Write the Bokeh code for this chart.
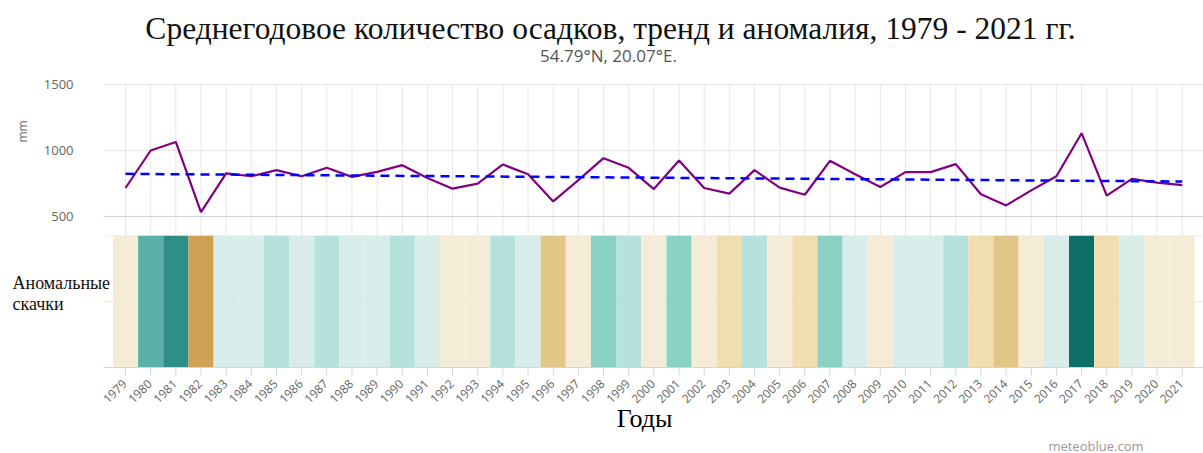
import math
from bokeh.plotting import figure
from bokeh.layouts import column
from bokeh.models import Range1d, Label, LabelSet, ColumnDataSource
from bokeh.core.properties import value
from bokeh.embed import file_html
from bokeh.resources import INLINE

years = list(range(1979, 2022))
precip = [716, 1000, 1065, 533, 826, 805, 851, 805, 869, 800, 838, 889,
          792, 711, 749, 894, 820, 614, 775, 942, 869, 708, 925, 716, 673, 851, 719, 665,
          922, 820, 724, 836, 836, 897, 668, 584, 698, 805, 1131, 658, 785, 757, 737]
trend_years = [1979, 2021]
trend_values = [823, 765]
anomaly_level = [-1, 4, 5, -4, 1, 1, 2, 1, 2, 1, 1, 2,
                 1, -1, -1, 2, 1, -3, -1, 3, 2, -1, 3, -1, -2, 2, -1, -2,
                 3, 1, -1, 1, 1, 2, -2, -3, -1, 1, 6, -2, 1, -1, -1]
level_colors = {-4: "#CFA055", -3: "#E2C688", -2: "#F1DDAF", -1: "#F5ECD7",
                1: "#D8EDE9", 2: "#B5E2DC", 3: "#8AD1C6", 4: "#5BB1A7",
                5: "#2E8F88", 6: "#0E6F69"}
y_ticks = [500, 1000, 1500]
tick_labels = [str(y) for y in years]
title_text = "Среднегодовое количество осадков, тренд и аномалия, 1979 - 2021 гг."
subtitle_text = "54.79°N, 20.07°E."

# ---------------- pixel layout ----------------
WIDTH = 1203
TOP_H = 235            # height of upper panel (titles + line chart)
BOT_H = 218            # height of lower panel (strip + axis + labels)
STRIP_H = 132
PX_PER_YEAR = 25.16
X_FIRST = 125          # pixel of first year
LEFT = 103             # left edge of plotting area
Y_PX_TOP_TICK = 84     # pixel of highest y tick
Y_PX_LOW_TICK = 216    # pixel of lowest y tick

x_zero = years[0] - X_FIRST / PX_PER_YEAR
x_hi = years[0] + (WIDTH - X_FIRST) / PX_PER_YEAR
x_lo = years[0] - (X_FIRST - LEFT) / PX_PER_YEAR
mm_per_px = (y_ticks[-1] - y_ticks[0]) / (Y_PX_LOW_TICK - Y_PX_TOP_TICK)
y_top = y_ticks[-1] + Y_PX_TOP_TICK * mm_per_px
y_bot = y_ticks[0] - (TOP_H - Y_PX_LOW_TICK) * mm_per_px

GRID = "#e6e6e6"
AXIS = "#ccd6eb"
LABEL = "#666666"


def bare_figure(h, yr):
    f = figure(frame_width=WIDTH, frame_height=h, x_range=Range1d(x_zero, x_hi), y_range=yr,
               x_axis_location=None, y_axis_location=None, output_backend="svg",
               toolbar_location=None, min_border_left=0, min_border_right=0,
               min_border_top=0, min_border_bottom=0)
    f.outline_line_color = None
    f.grid.visible = False
    f.background_fill_color = "white"
    f.border_fill_color = "white"
    return f


# ---------------- upper panel ----------------
top = bare_figure(TOP_H, Range1d(y_bot, y_top))
n = len(years)
top.segment(x0=years, y0=[y_bot] * n, x1=years, y1=[y_ticks[-1]] * n,
            line_color=GRID, line_width=1, level="underlay")
top.segment(x0=[x_lo] * 2, y0=y_ticks[1:], x1=[x_hi] * 2, y1=y_ticks[1:],
            line_color=GRID, line_width=1, level="underlay")
top.segment(x0=[x_lo], y0=y_ticks[:1], x1=[x_hi], y1=y_ticks[:1],
            line_color=AXIS, line_width=1, level="underlay")

for v in y_ticks:
    top.add_layout(Label(x=73, y=v, x_units="screen", y_units="data", text=str(v),
                         text_align="right", text_baseline="middle", text_color=LABEL,
                         text_font="Open Sans", text_font_size="13px"))
top.add_layout(Label(x=22, y=TOP_H - 131, x_units="screen", y_units="screen", text="mm",
                     angle=math.pi / 2, text_align="center", text_baseline="middle",
                     text_color=LABEL, text_font="Open Sans", text_font_size="12px"))

top.line(years, precip, line_color="#800080", line_width=2.2)
top.line(trend_years, trend_values, line_color="#0000FF", line_width=2.5, line_dash="9 6")

top.add_layout(Label(x=610, y=TOP_H - 28, x_units="screen", y_units="screen", text=title_text,
                     text_align="center", text_baseline="middle", text_color="#111111",
                     text_font="Liberation Serif", text_font_size="31.5px"))
top.add_layout(Label(x=608, y=TOP_H - 55, x_units="screen", y_units="screen", text=subtitle_text,
                     text_align="center", text_baseline="middle", text_color="#555555",
                     text_font="Open Sans", text_font_size="17px"))

# ---------------- lower panel ----------------
y_min = -(BOT_H - STRIP_H) / STRIP_H
bot = bare_figure(BOT_H, Range1d(y_min, 1))
src = ColumnDataSource(dict(year=years, level=anomaly_level, label=tick_labels,
                            color=[level_colors[l] for l in anomaly_level]))
bot.segment(x0=[x_lo] * 2, y0=[0.5, 1], x1=[x_hi] * 2, y1=[0.5, 1],
            line_color=GRID, line_width=1, level="underlay")
bot.vbar(x="year", width=1, bottom=0, top=1, fill_color="color", line_color=None, source=src)
# axis line and ticks
bot.segment(x0=[x_lo], y0=[0], x1=[x_hi], y1=[0], line_color=AXIS, line_width=1)
bot.segment(x0=years, y0=[0] * n, x1=years, y1=[-8 / STRIP_H] * n, line_color=AXIS, line_width=1)
bot.add_layout(LabelSet(x="year", y=BOT_H - STRIP_H - 14, x_units="data", y_units="screen",
                        text="label", source=src, angle=math.pi / 4, x_offset=-1,
                        text_align="right", text_baseline="middle", text_color=LABEL,
                        text_font=value("Open Sans"), text_font_size=value("12px")))

bot.add_layout(Label(x=12, y=BOT_H - (282 - TOP_H), x_units="screen", y_units="screen",
                     text="Аномальные", text_align="left", text_baseline="middle",
                     text_color="#111111", text_font="Liberation Serif", text_font_size="18px"))
bot.add_layout(Label(x=12, y=BOT_H - (303 - TOP_H), x_units="screen", y_units="screen",
                     text="скачки", text_align="left", text_baseline="middle",
                     text_color="#111111", text_font="Liberation Serif", text_font_size="18px"))
bot.add_layout(Label(x=644, y=BOT_H - (418 - TOP_H), x_units="screen", y_units="screen",
                     text="Годы", text_align="center", text_baseline="middle",
                     text_color="#000000", text_font="Liberation Serif", text_font_size="26px"))
bot.add_layout(Label(x=1143, y=BOT_H - (445 - TOP_H), x_units="screen", y_units="screen",
                     text="meteoblue.com", text_align="right", text_baseline="middle",
                     text_color="#999999", text_font="Open Sans", text_font_size="13px"))

layout = column(top, bot, spacing=0)
open("out.html", "w").write(file_html(layout, INLINE))
